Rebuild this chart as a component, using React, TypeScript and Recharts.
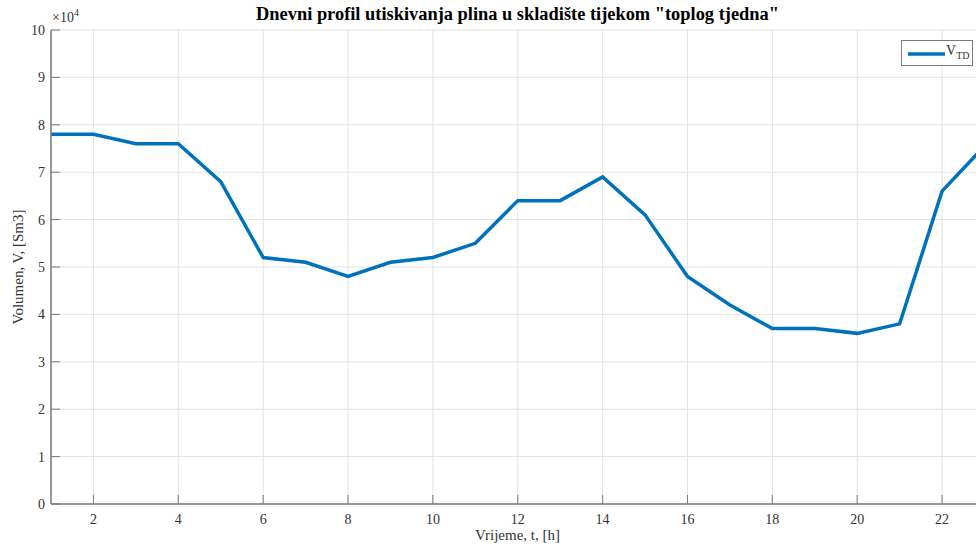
import { LineChart, Line, XAxis, YAxis, CartesianGrid } from "recharts";

/* ------------------------------------------------------------------ */
/*  Data                                                               */
/* ------------------------------------------------------------------ */

const hours = [1, 2, 3, 4, 5, 6, 7, 8, 9, 10, 11, 12, 13, 14, 15, 16, 17, 18, 19, 20, 21, 22, 23];
const volumeTD = [
  78000, 78000, 76000, 76000, 68000, 52000, 51000, 48000, 51000, 52000, 55000, 64000,
  64000, 69000, 61000, 48000, 42000, 37000, 37000, 36000, 38000, 66000, 75500,
];
const xTicks = [2, 4, 6, 8, 10, 12, 14, 16, 18, 20, 22];
const yTicks = [0, 10000, 20000, 30000, 40000, 50000, 60000, 70000, 80000, 90000, 100000];

const data = hours.map((h, i) => ({ t: h, v: volumeTD[i] }));

/* ------------------------------------------------------------------ */
/*  Styles                                                             */
/* ------------------------------------------------------------------ */

const FONT = "'Liberation Serif', 'Times New Roman', serif";
const AXIS = "#7a7a7a";
const TEXT = "#333333";
const BLUE = "#0072BD";

function LegendBox() {
  return (
    <div
      style={{
        position: "absolute",
        left: 901,
        top: 40,
        width: 70,
        height: 24,
        border: `1px solid ${AXIS}`,
        background: "#fff",
        display: "flex",
        alignItems: "center",
        fontFamily: FONT,
        color: TEXT,
      }}
    >
      <svg width={44} height={24}>
        <line x1={6} x2={43} y1={13} y2={13} stroke={BLUE} strokeWidth={3.5} />
      </svg>
      <span style={{ fontSize: 14, lineHeight: "14px" }}>
        V<sub style={{ fontSize: 10 }}>TD</sub>
      </span>
    </div>
  );
}

export default function App() {
  return (
    <div
      style={{
        position: "absolute",
        left: 0,
        top: 0,
        width: 976,
        height: 550,
        overflow: "hidden",
        background: "#fff",
      }}
    >
      <LineChart
        width={990}
        height={550}
        data={data}
        margin={{ top: 30, right: 5.5, bottom: 0, left: 0 }}
      >
        <CartesianGrid stroke="#e3e3e3" strokeWidth={1} />
        <XAxis
          dataKey="t"
          type="number"
          domain={[1, 23]}
          ticks={xTicks}
          height={46}
          stroke={AXIS}
          tickSize={-9}
          tickMargin={19}
          tick={{ fill: TEXT, fontSize: 14, fontFamily: FONT }}
          axisLine={{ stroke: AXIS, strokeWidth: 1.5 }}
        />
        <XAxis
          xAxisId="top"
          orientation="top"
          dataKey="t"
          type="number"
          domain={[1, 23]}
          ticks={xTicks}
          height={0}
          stroke={AXIS}
          tickSize={-9}
          tick={false}
          axisLine={{ stroke: AXIS, strokeWidth: 1.5 }}
        />
        <YAxis
          type="number"
          domain={[0, 100000]}
          ticks={yTicks}
          width={51}
          stroke={AXIS}
          tickSize={-9}
          tickMargin={15}
          tickFormatter={(v: number) => String(v / 10000)}
          tick={{ fill: TEXT, fontSize: 14, fontFamily: FONT }}
          axisLine={{ stroke: AXIS, strokeWidth: 1.5 }}
        />
        <YAxis
          yAxisId="right"
          orientation="right"
          type="number"
          domain={[0, 100000]}
          ticks={yTicks}
          width={0}
          stroke={AXIS}
          tickSize={-9}
          tick={false}
          axisLine={{ stroke: AXIS, strokeWidth: 1.5 }}
        />
        <Line
          dataKey="v"
          name="V_TD"
          stroke={BLUE}
          strokeWidth={3.5}
          dot={false}
          isAnimationActive={false}
          strokeLinejoin="miter"
        />
      </LineChart>

      <LegendBox />

      <div
        style={{
          position: "absolute",
          left: 51,
          width: 933,
          top: 4,
          textAlign: "center",
          fontFamily: FONT,
          fontWeight: "bold",
          fontSize: 18.4,
          color: "#000",
        }}
      >
        Dnevni profil utiskivanja plina u skladište tijekom "toplog tjedna"
      </div>
      <div
        style={{
          position: "absolute",
          left: 52,
          top: 7,
          fontFamily: FONT,
          fontSize: 14,
          color: TEXT,
        }}
      >
        ×10<sup style={{ fontSize: 10 }}>4</sup>
      </div>
      <div
        style={{
          position: "absolute",
          left: 51,
          width: 933,
          top: 527,
          textAlign: "center",
          fontFamily: FONT,
          fontSize: 15,
          color: TEXT,
        }}
      >
        Vrijeme, t, [h]
      </div>
      <div
        style={{
          position: "absolute",
          left: 18,
          top: 267,
          transform: "translate(-50%, -50%) rotate(-90deg)",
          whiteSpace: "nowrap",
          fontFamily: FONT,
          fontSize: 15,
          color: TEXT,
        }}
      >
        Volumen, V, [Sm3]
      </div>
    </div>
  );
}
